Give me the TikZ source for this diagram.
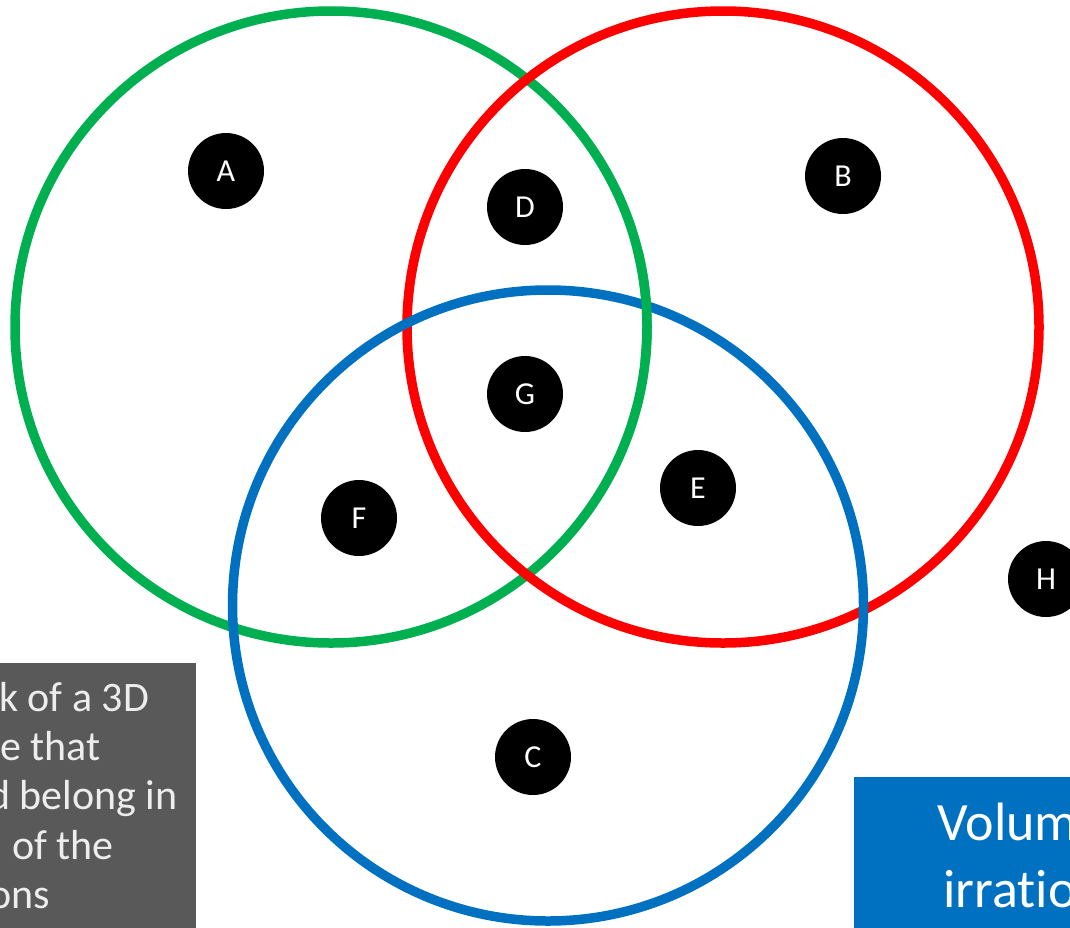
\documentclass[tikz,border=0pt]{standalone}
\usepackage{fontspec}
\setmainfont{Carlito}[Ligatures=NoCommon]
\definecolor{vgreen}{HTML}{00B050}
\definecolor{vred}{HTML}{FF0000}
\definecolor{vblue}{HTML}{0070C0}
\definecolor{vgray}{HTML}{595959}
\begin{document}
\begin{tikzpicture}[x=1pt,y=-1pt,
  ring/.style={line width=9.5pt},
  dot/.style={circle,fill=black,minimum size=76pt,inner sep=0pt,text=white,font=\fontsize{32}{38}\selectfont},
  graytext/.style={anchor=base west,text=white!93!black,inner sep=0pt,font=\fontsize{42}{49}\selectfont},
  bluetext/.style={anchor=base west,text=white,inner sep=0pt,font=\fontsize{54}{66}\selectfont}]
\useasboundingbox (0,0) rectangle (1070,927);
\clip (0,0) rectangle (1070,927);
% circles
\draw[ring,vgreen] (331,327) circle[radius=316];
\draw[ring,vred] (723,327) circle[radius=316];
\draw[ring,vblue] (548,605.5) circle[radius=315.5];
\begin{scope}
  \clip (600,250) rectangle (700,360);
  \draw[ring,vgreen] (331,327) circle[radius=316];
\end{scope}
% dots
\node[dot] (A) at (226,171) {A};
\node[dot] (D) at (525,207) {D};
\node[dot] (B) at (843,176) {B};
\node[dot] (G) at (525,394) {G};
\node[dot] (E) at (698,488) {E};
\node[dot] (F) at (359,518) {F};
\node[dot] (C) at (533,757) {C};
\node[dot] (H) at (1046,579) {H};
% gray box
\fill[vgray] (-10,663) rectangle (196,937);
\node[graytext] (g1) at (-1,711) {k of a 3D};
\node[graytext] (g2) at (0,760) {e that};
\node[graytext] (g3) at (-12,809) {d belong in};
\node[graytext] (g4) at (12,859) {of the};
\node[graytext] (g5) at (-11,908) {ons};
% blue box
\fill[vblue] (854,777) rectangle (1080,937);
\node[bluetext] (b1) at (937,840) {Volume};
\node[bluetext] (b2) at (943,907) {irrational};
\end{tikzpicture}
\end{document}
